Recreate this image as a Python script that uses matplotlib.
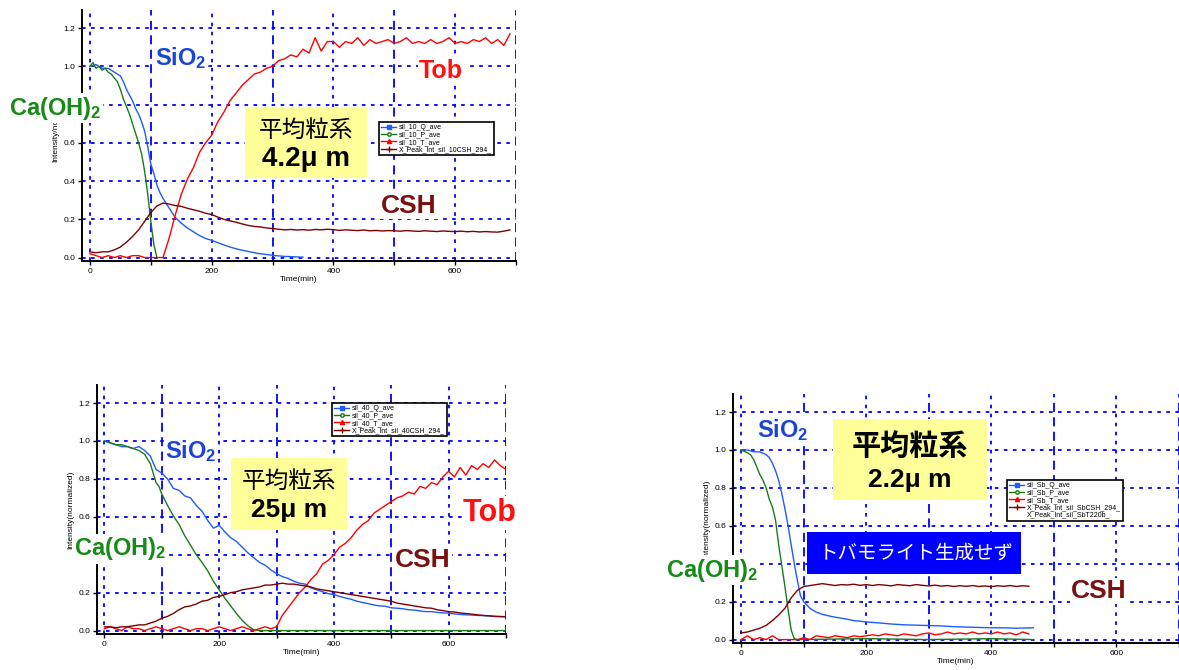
import matplotlib
matplotlib.use("Agg")
import matplotlib.pyplot as plt
from matplotlib.lines import Line2D
from matplotlib.patches import Rectangle
from matplotlib.ticker import MultipleLocator, FormatStrFormatter
import numpy as np

plt.rcParams['font.family'] = ['Liberation Sans', 'Noto Sans CJK JP', 'DejaVu Sans']
plt.rcParams['mathtext.fontset'] = 'custom'
plt.rcParams['mathtext.rm'] = 'Liberation Sans'
plt.rcParams['mathtext.default'] = 'regular'

W, H = 1179, 670

# ---------------- panel 1 : 4.2 um ----------------
q10_t = [0, 10, 20, 30, 40, 50, 55, 60, 65, 70, 75, 80, 85, 90, 95, 100, 105, 110, 115, 120,
         130, 140, 150, 160, 170, 180, 190, 200, 215, 230, 245, 260, 275, 290, 305, 320, 335, 350]
q10 = [1.00, 1.01, 0.99, 0.99, 0.97, 0.95, 0.92, 0.88, 0.85, 0.82, 0.78, 0.75, 0.71, 0.66, 0.58,
       0.49, 0.44, 0.38, 0.34, 0.31, 0.26, 0.21, 0.18, 0.155, 0.135, 0.115, 0.10, 0.09, 0.072,
       0.055, 0.042, 0.032, 0.022, 0.016, 0.010, 0.006, 0.004, 0.002]
p10_t = [0, 5, 10, 15, 20, 25, 30, 35, 40, 45, 50, 55, 60, 65, 70, 75, 80, 85, 90, 95, 100, 105, 110]
p10 = [1.00, 1.02, 0.99, 1.00, 0.98, 0.99, 0.97, 0.96, 0.94, 0.92, 0.88, 0.83, 0.79, 0.75, 0.70,
       0.65, 0.60, 0.54, 0.45, 0.33, 0.19, 0.07, 0.0]
t10_t = list(range(0, 700, 10))
t10 = [0.02, 0.01, 0.00, 0.01, 0.00, 0.01, 0.00, 0.01, 0.01, 0.00, 0.00, 0.00, 0.00, 0.10,
       0.22, 0.33, 0.41, 0.47, 0.55, 0.60, 0.64, 0.71, 0.76, 0.82, 0.86, 0.90, 0.93, 0.96,
       0.97, 0.99, 1.00, 1.03, 1.04, 1.06, 1.05, 1.09, 1.07, 1.15, 1.08, 1.13, 1.13, 1.10,
       1.13, 1.12, 1.15, 1.11, 1.14, 1.12, 1.13, 1.14, 1.12, 1.13, 1.15, 1.12, 1.13, 1.12,
       1.14, 1.12, 1.13, 1.15, 1.12, 1.13, 1.12, 1.14, 1.13, 1.15, 1.12, 1.14, 1.11, 1.17]
c10_t = list(range(0, 700, 10))
c10 = [0.030, 0.025, 0.030, 0.030, 0.040, 0.055, 0.080, 0.110, 0.145, 0.190, 0.235, 0.270,
       0.285, 0.280, 0.272, 0.268, 0.258, 0.250, 0.242, 0.232, 0.225, 0.212, 0.200, 0.192,
       0.185, 0.176, 0.168, 0.163, 0.160, 0.155, 0.152, 0.148, 0.145, 0.147, 0.144, 0.146,
       0.143, 0.147, 0.145, 0.148, 0.146, 0.142, 0.145, 0.143, 0.141, 0.144, 0.140, 0.142,
       0.139, 0.141, 0.140, 0.138, 0.141, 0.139, 0.137, 0.140, 0.138, 0.136, 0.139, 0.137,
       0.136, 0.138, 0.135, 0.137, 0.134, 0.136, 0.134, 0.133, 0.138, 0.145]

# ---------------- panel 2 : 25 um ----------------
q40_t = list(range(0, 710, 10))
q40 = [1.00, 0.99, 0.98, 0.97, 0.97, 0.96, 0.97, 0.95, 0.92, 0.85, 0.83, 0.80, 0.75, 0.74,
       0.71, 0.70, 0.66, 0.63, 0.58, 0.54, 0.555, 0.52, 0.49, 0.47, 0.44, 0.41, 0.385, 0.36,
       0.345, 0.32, 0.30, 0.285, 0.275, 0.26, 0.25, 0.245, 0.225, 0.215, 0.205, 0.195, 0.19,
       0.18, 0.172, 0.165, 0.155, 0.148, 0.142, 0.135, 0.13, 0.128, 0.12, 0.118, 0.115, 0.11,
       0.108, 0.104, 0.10, 0.10, 0.096, 0.093, 0.092, 0.088, 0.085, 0.083, 0.082, 0.08,
       0.079, 0.077, 0.075, 0.074, 0.074]
p40_t = [0, 10, 20, 30, 40, 50, 60, 70, 80, 85, 90, 95, 100, 110, 120, 130, 140, 150, 160, 170,
         180, 190, 200, 210, 220, 230, 240, 250, 260, 270, 700]
p40 = [1.00, 0.99, 0.98, 0.98, 0.97, 0.96, 0.95, 0.93, 0.88, 0.83, 0.78, 0.76, 0.72, 0.66,
       0.605, 0.56, 0.50, 0.45, 0.40, 0.36, 0.315, 0.26, 0.215, 0.17, 0.13, 0.09, 0.055, 0.025,
       0.005, 0.0, 0.0]
t40_t = list(range(0, 710, 10))
t40 = [0.01, 0.02, 0.01, 0.00, 0.02, 0.01, 0.01, 0.00, 0.01, 0.02, 0.01, 0.00, 0.01, 0.02,
       0.01, 0.00, 0.01, 0.01, 0.00, 0.01, 0.02, 0.01, 0.00, 0.01, 0.02, 0.01, 0.00, 0.01,
       0.02, 0.01, 0.02, 0.08, 0.12, 0.16, 0.20, 0.23, 0.27, 0.30, 0.35, 0.37, 0.40, 0.44,
       0.46, 0.49, 0.53, 0.56, 0.58, 0.62, 0.64, 0.66, 0.68, 0.70, 0.71, 0.73, 0.72, 0.76,
       0.75, 0.78, 0.77, 0.81, 0.84, 0.81, 0.86, 0.82, 0.87, 0.85, 0.88, 0.86, 0.90, 0.87, 0.85]
c40_t = list(range(0, 710, 10))
c40 = [0.02, 0.02, 0.015, 0.02, 0.02, 0.025, 0.03, 0.03, 0.04, 0.05, 0.065, 0.075, 0.09, 0.11,
       0.125, 0.13, 0.14, 0.155, 0.16, 0.175, 0.18, 0.19, 0.20, 0.205, 0.215, 0.22, 0.225,
       0.23, 0.24, 0.24, 0.245, 0.25, 0.245, 0.245, 0.24, 0.235, 0.23, 0.22, 0.215, 0.21,
       0.205, 0.20, 0.195, 0.19, 0.185, 0.18, 0.175, 0.17, 0.165, 0.16, 0.155, 0.145, 0.14,
       0.135, 0.13, 0.125, 0.12, 0.118, 0.11, 0.105, 0.10, 0.098, 0.093, 0.09, 0.087, 0.083,
       0.08, 0.078, 0.075, 0.074, 0.072]

# ---------------- panel 3 : 2.2 um ----------------
qsb_t = [0, 10, 20, 30, 40, 45, 50, 55, 60, 65, 70, 75, 80, 85, 90, 95, 100, 110, 120, 130,
         140, 150, 160, 170, 180, 190, 200, 220, 240, 260, 280, 300, 320, 340, 360, 380, 400,
         420, 440, 467]
qsb = [1.00, 1.00, 0.99, 0.99, 0.975, 0.96, 0.93, 0.89, 0.84, 0.77, 0.69, 0.60, 0.50, 0.40,
       0.31, 0.23, 0.20, 0.165, 0.145, 0.133, 0.125, 0.118, 0.113, 0.107, 0.10, 0.097, 0.093,
       0.088, 0.082, 0.078, 0.076, 0.074, 0.072, 0.068, 0.066, 0.064, 0.062, 0.062, 0.06, 0.062]
psb_t = [0, 10, 15, 20, 25, 30, 35, 40, 45, 50, 55, 60, 65, 70, 75, 80, 85, 90, 200, 300, 400, 467]
psb = [1.00, 0.985, 0.975, 0.95, 0.91, 0.87, 0.84, 0.80, 0.74, 0.70, 0.63, 0.50, 0.39, 0.28,
       0.16, 0.05, 0.005, 0.0, 0.005, 0.0, 0.005, 0.0]
tsb_t = list(range(0, 470, 10))
tsb = [0.00, 0.02, 0.00, 0.01, 0.00, 0.02, 0.00, 0.00, 0.00, 0.00, 0.01, 0.00, 0.02, 0.015,
       0.01, 0.02, 0.015, 0.01, 0.02, 0.015, 0.02, 0.025, 0.02, 0.03, 0.025, 0.02, 0.03, 0.025,
       0.02, 0.03, 0.035, 0.025, 0.03, 0.04, 0.03, 0.035, 0.03, 0.04, 0.03, 0.035, 0.03, 0.04,
       0.03, 0.035, 0.025, 0.04, 0.03]
csb_t = list(range(0, 470, 10))
csb = [0.035, 0.04, 0.05, 0.06, 0.075, 0.10, 0.13, 0.165, 0.22, 0.26, 0.28, 0.285, 0.29, 0.295,
       0.29, 0.285, 0.29, 0.288, 0.292, 0.286, 0.29, 0.285, 0.29, 0.287, 0.283, 0.29, 0.287,
       0.284, 0.29, 0.286, 0.283, 0.287, 0.282, 0.285, 0.28, 0.284, 0.281, 0.285, 0.28, 0.283,
       0.279, 0.284, 0.281, 0.285, 0.28, 0.284, 0.281]

legend1 = ['sil_10_Q_ave', 'sil_10_P_ave', 'sil_10_T_ave', 'X_Peak_Int_sil_10CSH_294_']
legend2 = ['sil_40_Q_ave', 'sil_40_P_ave', 'sil_40_T_ave', 'X_Peak_Int_sil_40CSH_294_']
legend3 = ['sil_Sb_Q_ave', 'sil_Sb_P_ave', 'sil_Sb_T_ave', 'X_Peak_Int_sil_SbCSH_294_',
           'X_Peak_Int_sil_SbT220b_']

C_Q, C_P, C_T, C_C = '#1f5cff', '#1a7a1a', '#ff0000', '#800000'


def fx(x):
    return x / W


def fy(y):
    return 1 - y / H


fig = plt.figure(figsize=(W / 100, H / 100), dpi=100)


def make_axes(l, r, t, b, ylabel):
    ax = fig.add_axes([fx(l), fy(b), fx(r) - fx(l), fy(t) - fy(b)])
    ax.set_xlim(-13, 700)
    ax.set_ylim(-0.018, 1.295)
    ax.spines['top'].set_visible(False)
    ax.spines['right'].set_visible(False)
    for s in ('left', 'bottom'):
        ax.spines[s].set_linewidth(1.4)
    ax.xaxis.set_major_locator(MultipleLocator(200))
    ax.xaxis.set_minor_locator(MultipleLocator(100))
    ax.yaxis.set_major_locator(MultipleLocator(0.2))
    ax.yaxis.set_major_formatter(FormatStrFormatter('%.1f'))
    ax.tick_params(which='both', direction='out', labelsize=6, width=1, length=3, pad=2)
    ax.grid(True, which='major', color='#0000ff', linestyle=(0, (2, 3)), linewidth=1.3)
    ax.grid(True, which='minor', axis='x', color='#0000ff', linestyle=(0, (5, 3)), linewidth=1.3)
    ax.set_xlabel('Time(min)', fontsize=6, labelpad=1)
    ax.set_ylabel(ylabel, fontsize=6, labelpad=3)
    return ax


def draw(ax, series):
    for t, v, c in series:
        ax.plot(t, v, color=c, lw=1.0)


def handles(labels):
    hs = [Line2D([], [], color=C_Q, marker='s', ms=2.5, lw=1),
          Line2D([], [], color=C_P, marker='o', ms=2.5, mfc='white', lw=1),
          Line2D([], [], color=C_T, marker='^', ms=3, lw=1),
          Line2D([], [], color=C_C, marker='+', ms=4, lw=1)]
    if len(labels) > 4:
        hs.append(Line2D([], [], color='none'))
    return hs


def legend(ax, labels, x, y):
    leg = ax.legend(handles(labels), labels, loc='upper left', bbox_to_anchor=(fx(x), fy(y)),
                    bbox_transform=fig.transFigure, fontsize=5, fancybox=False,
                    edgecolor='black', framealpha=1, borderpad=0.3, labelspacing=0.05,
                    handlelength=2.2, handletextpad=0.4, borderaxespad=0)
    leg.get_frame().set_linewidth(1.2)
    leg.set_zorder(10)


def label(x, y, s, color, size):
    fig.text(fx(x), fy(y), s, color=color, fontsize=size, fontweight='bold', ha='center',
             va='center', zorder=20,
             bbox=dict(facecolor='white', edgecolor='none', pad=1))


def box(l, t, r, b, color):
    fig.add_artist(Rectangle((fx(l), fy(b)), fx(r) - fx(l), fy(t) - fy(b),
                             transform=fig.transFigure, facecolor=color, edgecolor='none',
                             zorder=15))


# panel 1
ax1 = make_axes(82, 516, 10, 261, 'Intensity/norm')
draw(ax1, [(q10_t, q10, C_Q), (p10_t, p10, C_P), (t10_t, t10, C_T), (c10_t, c10, C_C)])
legend(ax1, legend1, 379, 122)
label(181, 58, 'SiO$_2$', '#1a44d9', 17)
label(441, 71, 'Tob', '#ff1010', 18)
label(55, 108, 'Ca(OH)$_2$', '#178a17', 17)
label(409, 206, 'CSH', '#7a1010', 19)
box(245, 107, 367, 178, '#ffff99')
fig.text(fx(306), fy(130), '平均粒系', fontsize=17, ha='center', va='center', zorder=20,
         family='Noto Sans CJK JP')
fig.text(fx(306), fy(159), '4.2μ m', fontsize=20, fontweight='bold', ha='center',
         va='center', zorder=20)

# panel 2
ax2 = make_axes(97, 506, 385, 634, 'Intensity(normalized)')
draw(ax2, [(q40_t, q40, C_Q), (p40_t, p40, C_P), (t40_t, t40, C_T), (c40_t, c40, C_C)])
legend(ax2, legend2, 332, 403)
label(191, 451, 'SiO$_2$', '#1a44d9', 17)
label(490, 513, 'Tob', '#ff1010', 22)
label(120, 549, 'Ca(OH)$_2$', '#178a17', 17)
label(423, 560, 'CSH', '#7a1010', 19)
box(231, 458, 347, 530, '#ffff99')
fig.text(fx(289), fy(481), '平均粒系', fontsize=17, ha='center', va='center', zorder=20,
         family='Noto Sans CJK JP')
fig.text(fx(289), fy(510), '25μ m', fontsize=19, fontweight='bold', ha='center',
         va='center', zorder=20)

# panel 3
ax3 = make_axes(733, 1179, 394, 643, 'Intensity(normalized)')
draw(ax3, [(qsb_t, qsb, C_Q), (psb_t, psb, C_P), (tsb_t, tsb, C_T), (csb_t, csb, C_C)])
legend(ax3, legend3, 1007, 480)
label(783, 430, 'SiO$_2$', '#1a44d9', 17)
label(712, 570, 'Ca(OH)$_2$', '#178a17', 17)
label(1099, 591, 'CSH', '#7a1010', 19)
box(833, 419, 987, 500, '#ffff99')
fig.text(fx(910), fy(446), '平均粒系', fontsize=21, fontweight='bold', ha='center',
         va='center', zorder=20, family='Noto Sans CJK JP')
fig.text(fx(910), fy(480), '2.2μ m', fontsize=19, fontweight='bold', ha='center',
         va='center', zorder=20)
box(807, 532, 1021, 574, '#0000ff')
fig.text(fx(916), fy(553), 'トバモライト生成せず', fontsize=14, color='white', ha='center',
         va='center', zorder=20, family='Noto Sans CJK JP')

fig.savefig('out.png', dpi=100, facecolor='white')
